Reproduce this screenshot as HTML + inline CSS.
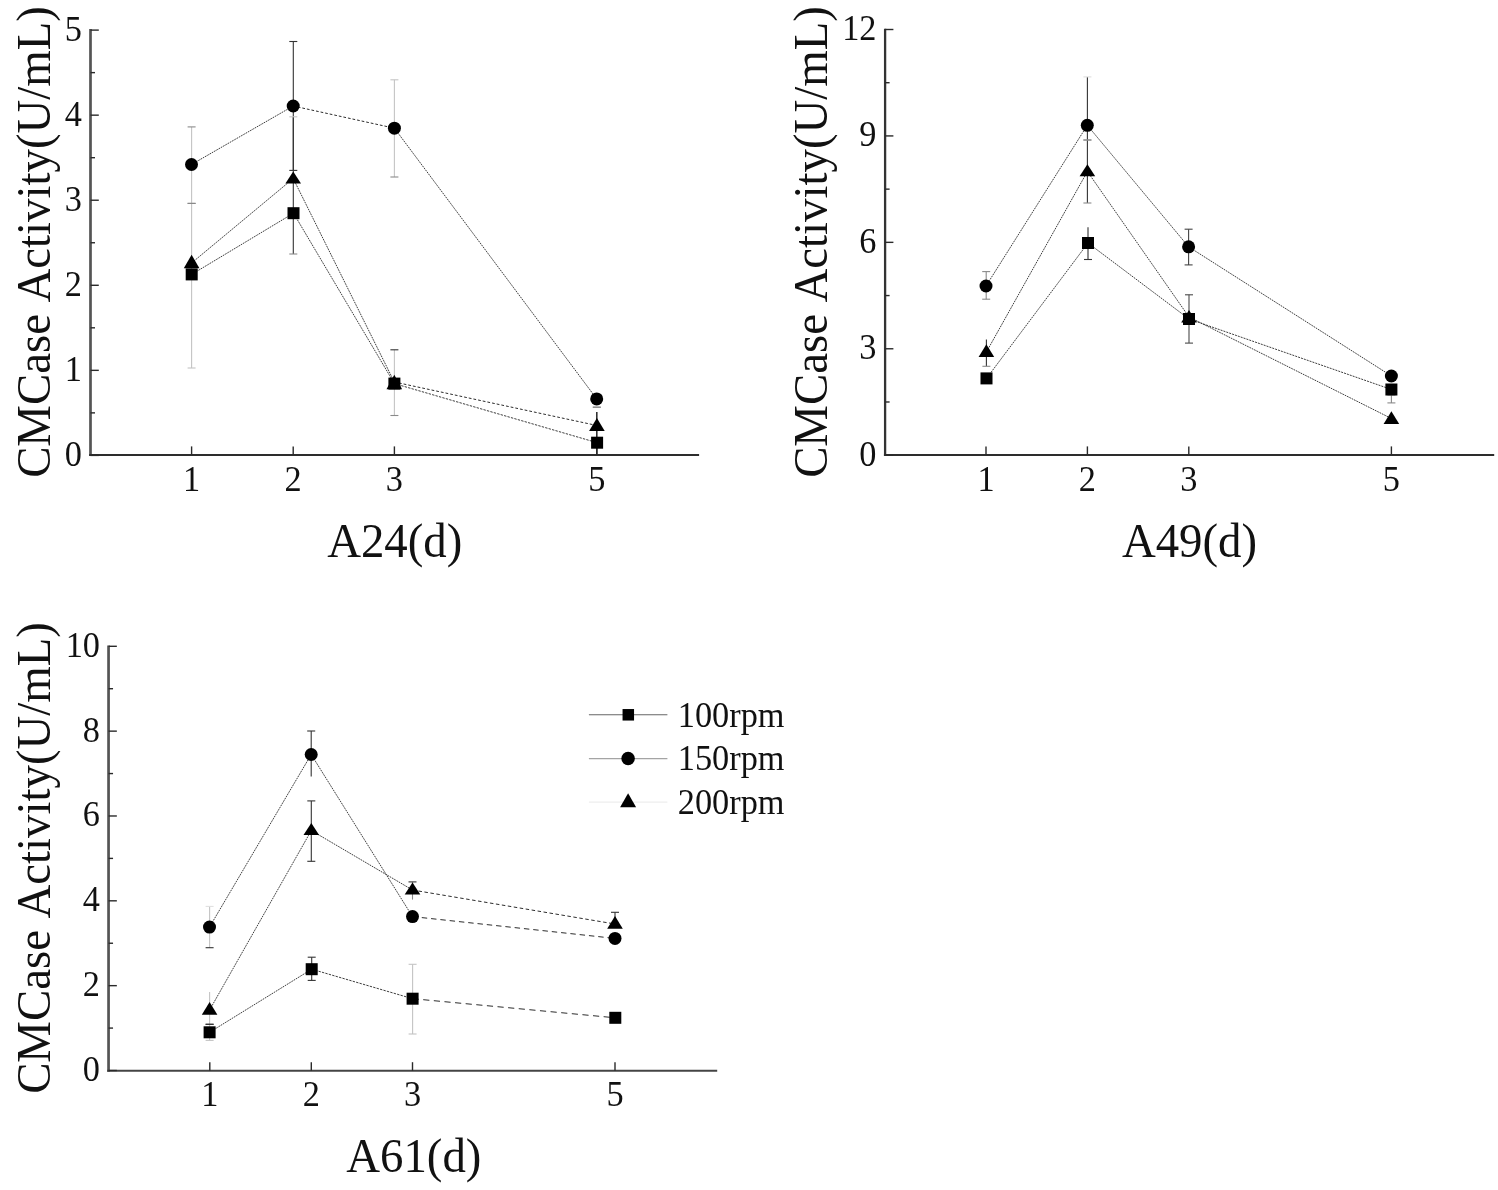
<!DOCTYPE html>
<html><head><meta charset="utf-8"><title>CMCase Activity</title>
<style>
html,body{margin:0;padding:0;background:#fff;}
svg{display:block;font-family:"Liberation Serif",serif;fill:#111;}
</style></head><body>
<svg width="1498" height="1190" viewBox="0 0 1498 1190">
<rect width="1498" height="1190" fill="#fff"/>
<line x1="191.70" y1="274.40" x2="293.50" y2="213.20" stroke="#343434" stroke-width="0.95" stroke-dasharray="1.72 0.88"/>
<line x1="293.50" y1="213.20" x2="394.40" y2="383.60" stroke="#343434" stroke-width="0.95" stroke-dasharray="1.72 0.88"/>
<line x1="394.40" y1="383.60" x2="597.10" y2="442.70" stroke="#343434" stroke-width="0.95" stroke-dasharray="2.36 1.21"/>
<line x1="191.50" y1="164.50" x2="293.20" y2="106.00" stroke="#343434" stroke-width="0.95" stroke-dasharray="1.72 0.88"/>
<line x1="293.20" y1="106.00" x2="394.40" y2="128.20" stroke="#2c2c2c" stroke-width="1.0" stroke-dasharray="2.71 1.96"/>
<line x1="394.40" y1="128.20" x2="596.70" y2="398.90" stroke="#343434" stroke-width="0.95" stroke-dasharray="1.72 0.88"/>
<line x1="191.60" y1="263.00" x2="293.20" y2="178.50" stroke="#343434" stroke-width="0.95" stroke-dasharray="1.72 0.88"/>
<line x1="293.20" y1="178.50" x2="394.30" y2="382.00" stroke="#343434" stroke-width="0.95" stroke-dasharray="1.72 0.88"/>
<line x1="394.30" y1="382.00" x2="596.90" y2="425.50" stroke="#2c2c2c" stroke-width="1.0" stroke-dasharray="2.76 2.00"/>
<line x1="191.60" y1="126.90" x2="191.60" y2="368.00" stroke="#c4c4c4" stroke-width="1.1" />
<line x1="187.60" y1="126.90" x2="195.60" y2="126.90" stroke="#8a8a8a" stroke-width="1.1" />
<line x1="187.60" y1="368.00" x2="195.60" y2="368.00" stroke="#c4c4c4" stroke-width="1.1" />
<line x1="191.60" y1="203.40" x2="191.60" y2="203.40" stroke="#8a8a8a" stroke-width="1.1" />
<line x1="187.60" y1="203.40" x2="195.60" y2="203.40" stroke="#8a8a8a" stroke-width="1.1" />
<line x1="187.60" y1="203.40" x2="195.60" y2="203.40" stroke="#8a8a8a" stroke-width="1.1" />
<line x1="293.30" y1="41.50" x2="293.30" y2="254.00" stroke="#333" stroke-width="1.1" />
<line x1="289.30" y1="41.50" x2="297.30" y2="41.50" stroke="#333" stroke-width="1.1" />
<line x1="289.30" y1="254.00" x2="297.30" y2="254.00" stroke="#8a8a8a" stroke-width="1.1" />
<line x1="293.30" y1="116.80" x2="293.30" y2="170.40" stroke="#333" stroke-width="1.1" />
<line x1="289.30" y1="116.80" x2="297.30" y2="116.80" stroke="#c4c4c4" stroke-width="1.1" />
<line x1="289.30" y1="170.40" x2="297.30" y2="170.40" stroke="#333" stroke-width="1.1" />
<line x1="394.40" y1="79.80" x2="394.40" y2="177.00" stroke="#c4c4c4" stroke-width="1.1" />
<line x1="390.40" y1="79.80" x2="398.40" y2="79.80" stroke="#c4c4c4" stroke-width="1.1" />
<line x1="390.40" y1="177.00" x2="398.40" y2="177.00" stroke="#8a8a8a" stroke-width="1.1" />
<line x1="394.40" y1="349.80" x2="394.40" y2="415.50" stroke="#c4c4c4" stroke-width="1.1" />
<line x1="390.40" y1="349.80" x2="398.40" y2="349.80" stroke="#333" stroke-width="1.1" />
<line x1="390.40" y1="415.50" x2="398.40" y2="415.50" stroke="#8a8a8a" stroke-width="1.1" />
<line x1="596.80" y1="412.00" x2="596.80" y2="454.00" stroke="#333" stroke-width="1.6" />
<line x1="596.80" y1="407.20" x2="596.80" y2="407.20" stroke="#8a8a8a" stroke-width="1.1" />
<line x1="592.80" y1="407.20" x2="600.80" y2="407.20" stroke="#8a8a8a" stroke-width="1.1" />
<line x1="592.80" y1="407.20" x2="600.80" y2="407.20" stroke="#8a8a8a" stroke-width="1.1" />
<line x1="90.50" y1="29.10" x2="90.50" y2="456.10" stroke="#545454" stroke-width="2.7" />
<line x1="89.15" y1="455.00" x2="699.10" y2="455.00" stroke="#2d2d2d" stroke-width="2.2" />
<line x1="90.50" y1="455.40" x2="98.80" y2="455.40" stroke="#2a2a2a" stroke-width="1.4" />
<line x1="90.50" y1="370.34" x2="98.80" y2="370.34" stroke="#2a2a2a" stroke-width="1.4" />
<line x1="90.50" y1="285.28" x2="98.80" y2="285.28" stroke="#2a2a2a" stroke-width="1.4" />
<line x1="90.50" y1="200.22" x2="98.80" y2="200.22" stroke="#2a2a2a" stroke-width="1.4" />
<line x1="90.50" y1="115.16" x2="98.80" y2="115.16" stroke="#2a2a2a" stroke-width="1.4" />
<line x1="90.50" y1="30.10" x2="98.80" y2="30.10" stroke="#2a2a2a" stroke-width="1.4" />
<line x1="90.50" y1="412.87" x2="95.00" y2="412.87" stroke="#2a2a2a" stroke-width="1.4" />
<line x1="90.50" y1="327.81" x2="95.00" y2="327.81" stroke="#2a2a2a" stroke-width="1.4" />
<line x1="90.50" y1="242.75" x2="95.00" y2="242.75" stroke="#2a2a2a" stroke-width="1.4" />
<line x1="90.50" y1="157.69" x2="95.00" y2="157.69" stroke="#2a2a2a" stroke-width="1.4" />
<line x1="90.50" y1="72.63" x2="95.00" y2="72.63" stroke="#2a2a2a" stroke-width="1.4" />
<line x1="191.60" y1="455.00" x2="191.60" y2="446.40" stroke="#2a2a2a" stroke-width="1.4" />
<text transform="translate(191.60,490.50) scale(1,1.065)" font-size="34.3" text-anchor="middle">1</text>
<line x1="293.20" y1="455.00" x2="293.20" y2="446.40" stroke="#2a2a2a" stroke-width="1.4" />
<text transform="translate(293.20,490.50) scale(1,1.065)" font-size="34.3" text-anchor="middle">2</text>
<line x1="394.40" y1="455.00" x2="394.40" y2="446.40" stroke="#2a2a2a" stroke-width="1.4" />
<text transform="translate(394.40,490.50) scale(1,1.065)" font-size="34.3" text-anchor="middle">3</text>
<line x1="596.80" y1="455.00" x2="596.80" y2="446.40" stroke="#2a2a2a" stroke-width="1.4" />
<text transform="translate(596.80,490.50) scale(1,1.065)" font-size="34.3" text-anchor="middle">5</text>
<text transform="translate(81.90,465.80) scale(1,1.065)" font-size="34.3" text-anchor="end">0</text>
<text transform="translate(81.90,380.74) scale(1,1.065)" font-size="34.3" text-anchor="end">1</text>
<text transform="translate(81.90,295.68) scale(1,1.065)" font-size="34.3" text-anchor="end">2</text>
<text transform="translate(81.90,210.62) scale(1,1.065)" font-size="34.3" text-anchor="end">3</text>
<text transform="translate(81.90,125.56) scale(1,1.065)" font-size="34.3" text-anchor="end">4</text>
<text transform="translate(81.90,40.50) scale(1,1.065)" font-size="34.3" text-anchor="end">5</text>
<text transform="translate(394.70,556.70) scale(1,1.03)" font-size="46.8" text-anchor="middle">A24(d)</text>
<text transform="translate(50.30,242.00) rotate(-90) scale(1,1.03)" font-size="46.8" text-anchor="middle" word-spacing="2.5">CMCase Activity(U/mL)</text>
<rect x="185.70" y="268.40" width="12" height="12" fill="#000"/>
<rect x="287.50" y="207.20" width="12" height="12" fill="#000"/>
<rect x="388.40" y="377.60" width="12" height="12" fill="#000"/>
<rect x="591.10" y="436.70" width="12" height="12" fill="#000"/>
<circle cx="191.50" cy="164.50" r="6.5" fill="#000"/>
<circle cx="293.20" cy="106.00" r="6.5" fill="#000"/>
<circle cx="394.40" cy="128.20" r="6.5" fill="#000"/>
<circle cx="596.70" cy="398.90" r="6.5" fill="#000"/>
<polygon points="191.60,254.80 199.40,268.30 183.80,268.30" fill="#000"/>
<polygon points="293.20,171.50 301.00,183.50 285.40,183.50" fill="#000"/>
<polygon points="394.30,374.80 402.10,389.20 386.50,389.20" fill="#000"/>
<polygon points="596.90,418.00 604.70,431.00 589.10,431.00" fill="#000"/>
<line x1="986.50" y1="378.40" x2="1088.00" y2="243.00" stroke="#343434" stroke-width="0.95" stroke-dasharray="1.72 0.88"/>
<line x1="1088.00" y1="243.00" x2="1189.00" y2="319.00" stroke="#343434" stroke-width="0.95" stroke-dasharray="1.72 0.88"/>
<line x1="1189.00" y1="319.00" x2="1391.40" y2="389.50" stroke="#343434" stroke-width="0.95" stroke-dasharray="2.01 1.03"/>
<line x1="986.00" y1="286.00" x2="1087.30" y2="125.30" stroke="#343434" stroke-width="0.95" stroke-dasharray="1.72 0.88"/>
<line x1="1087.30" y1="125.30" x2="1188.60" y2="246.80" stroke="#343434" stroke-width="0.95" stroke-dasharray="1.72 0.88"/>
<line x1="1188.60" y1="246.80" x2="1391.40" y2="376.00" stroke="#343434" stroke-width="0.95" stroke-dasharray="1.72 0.88"/>
<line x1="986.40" y1="352.00" x2="1087.40" y2="171.50" stroke="#343434" stroke-width="0.95" stroke-dasharray="1.72 0.88"/>
<line x1="1087.40" y1="171.50" x2="1189.00" y2="317.00" stroke="#343434" stroke-width="0.95" stroke-dasharray="1.72 0.88"/>
<line x1="1189.00" y1="317.00" x2="1391.40" y2="418.50" stroke="#343434" stroke-width="0.95" stroke-dasharray="1.72 0.88"/>
<line x1="986.20" y1="271.60" x2="986.20" y2="299.20" stroke="#8a8a8a" stroke-width="1.1" />
<line x1="982.20" y1="271.60" x2="990.20" y2="271.60" stroke="#8a8a8a" stroke-width="1.1" />
<line x1="982.20" y1="299.20" x2="990.20" y2="299.20" stroke="#8a8a8a" stroke-width="1.1" />
<line x1="986.40" y1="339.50" x2="986.40" y2="366.30" stroke="#333" stroke-width="1.1" />
<line x1="982.40" y1="366.30" x2="990.40" y2="366.30" stroke="#8a8a8a" stroke-width="1.1" />
<line x1="1087.40" y1="76.90" x2="1087.40" y2="203.00" stroke="#333" stroke-width="1.1" />
<line x1="1083.40" y1="76.90" x2="1091.40" y2="76.90" stroke="#ddd" stroke-width="1.1" />
<line x1="1083.40" y1="203.00" x2="1091.40" y2="203.00" stroke="#8a8a8a" stroke-width="1.1" />
<line x1="1087.40" y1="140.00" x2="1087.40" y2="140.00" stroke="#8a8a8a" stroke-width="1.1" />
<line x1="1083.40" y1="140.00" x2="1091.40" y2="140.00" stroke="#8a8a8a" stroke-width="1.1" />
<line x1="1083.40" y1="140.00" x2="1091.40" y2="140.00" stroke="#8a8a8a" stroke-width="1.1" />
<line x1="1088.00" y1="227.20" x2="1088.00" y2="259.50" stroke="#333" stroke-width="1.1" />
<line x1="1084.00" y1="259.50" x2="1092.00" y2="259.50" stroke="#333" stroke-width="1.1" />
<line x1="1188.60" y1="229.20" x2="1188.60" y2="264.90" stroke="#444" stroke-width="1.1" />
<line x1="1184.60" y1="229.20" x2="1192.60" y2="229.20" stroke="#444" stroke-width="1.1" />
<line x1="1184.60" y1="264.90" x2="1192.60" y2="264.90" stroke="#444" stroke-width="1.1" />
<line x1="1189.00" y1="294.80" x2="1189.00" y2="343.10" stroke="#4a4a4a" stroke-width="1.1" />
<line x1="1185.00" y1="294.80" x2="1193.00" y2="294.80" stroke="#4a4a4a" stroke-width="1.1" />
<line x1="1185.00" y1="343.10" x2="1193.00" y2="343.10" stroke="#4a4a4a" stroke-width="1.1" />
<line x1="1391.40" y1="395.00" x2="1391.40" y2="402.90" stroke="#8a8a8a" stroke-width="1.1" />
<line x1="1387.40" y1="395.00" x2="1395.40" y2="395.00" stroke="#8a8a8a" stroke-width="1.1" />
<line x1="1387.40" y1="402.90" x2="1395.40" y2="402.90" stroke="#8a8a8a" stroke-width="1.1" />
<line x1="885.10" y1="28.70" x2="885.10" y2="456.10" stroke="#333" stroke-width="2.3" />
<line x1="883.95" y1="455.00" x2="1494.20" y2="455.00" stroke="#2d2d2d" stroke-width="2.2" />
<line x1="885.10" y1="455.20" x2="893.40" y2="455.20" stroke="#2a2a2a" stroke-width="1.4" />
<line x1="885.10" y1="348.77" x2="893.40" y2="348.77" stroke="#2a2a2a" stroke-width="1.4" />
<line x1="885.10" y1="242.35" x2="893.40" y2="242.35" stroke="#2a2a2a" stroke-width="1.4" />
<line x1="885.10" y1="135.92" x2="893.40" y2="135.92" stroke="#2a2a2a" stroke-width="1.4" />
<line x1="885.10" y1="29.50" x2="893.40" y2="29.50" stroke="#2a2a2a" stroke-width="1.4" />
<line x1="885.10" y1="401.99" x2="889.60" y2="401.99" stroke="#2a2a2a" stroke-width="1.4" />
<line x1="885.10" y1="295.56" x2="889.60" y2="295.56" stroke="#2a2a2a" stroke-width="1.4" />
<line x1="885.10" y1="189.14" x2="889.60" y2="189.14" stroke="#2a2a2a" stroke-width="1.4" />
<line x1="885.10" y1="82.71" x2="889.60" y2="82.71" stroke="#2a2a2a" stroke-width="1.4" />
<line x1="986.00" y1="455.00" x2="986.00" y2="446.40" stroke="#2a2a2a" stroke-width="1.4" />
<text transform="translate(986.00,490.50) scale(1,1.065)" font-size="34.3" text-anchor="middle">1</text>
<line x1="1087.40" y1="455.00" x2="1087.40" y2="446.40" stroke="#2a2a2a" stroke-width="1.4" />
<text transform="translate(1087.40,490.50) scale(1,1.065)" font-size="34.3" text-anchor="middle">2</text>
<line x1="1188.80" y1="455.00" x2="1188.80" y2="446.40" stroke="#2a2a2a" stroke-width="1.4" />
<text transform="translate(1188.80,490.50) scale(1,1.065)" font-size="34.3" text-anchor="middle">3</text>
<line x1="1391.40" y1="455.00" x2="1391.40" y2="446.40" stroke="#2a2a2a" stroke-width="1.4" />
<text transform="translate(1391.40,490.50) scale(1,1.065)" font-size="34.3" text-anchor="middle">5</text>
<text transform="translate(876.50,465.60) scale(1,1.065)" font-size="34.3" text-anchor="end">0</text>
<text transform="translate(876.50,359.17) scale(1,1.065)" font-size="34.3" text-anchor="end">3</text>
<text transform="translate(876.50,252.75) scale(1,1.065)" font-size="34.3" text-anchor="end">6</text>
<text transform="translate(876.50,146.32) scale(1,1.065)" font-size="34.3" text-anchor="end">9</text>
<text transform="translate(876.50,39.90) scale(1,1.065)" font-size="34.3" text-anchor="end">12</text>
<text transform="translate(1189.50,556.70) scale(1,1.03)" font-size="46.8" text-anchor="middle">A49(d)</text>
<text transform="translate(826.70,242.00) rotate(-90) scale(1,1.03)" font-size="46.8" text-anchor="middle" word-spacing="2.5">CMCase Activity(U/mL)</text>
<rect x="980.50" y="372.40" width="12" height="12" fill="#000"/>
<rect x="1082.00" y="237.00" width="12" height="12" fill="#000"/>
<rect x="1183.00" y="313.00" width="12" height="12" fill="#000"/>
<rect x="1385.40" y="383.50" width="12" height="12" fill="#000"/>
<circle cx="986.00" cy="286.00" r="6.5" fill="#000"/>
<circle cx="1087.30" cy="125.30" r="6.5" fill="#000"/>
<circle cx="1188.60" cy="246.80" r="6.5" fill="#000"/>
<circle cx="1391.40" cy="376.00" r="6.5" fill="#000"/>
<polygon points="986.40,344.20 994.20,356.90 978.60,356.90" fill="#000"/>
<polygon points="1087.40,164.20 1095.20,176.30 1079.60,176.30" fill="#000"/>
<polygon points="1189.00,309.90 1196.80,322.50 1181.20,322.50" fill="#000"/>
<polygon points="1391.40,411.20 1399.20,424.00 1383.60,424.00" fill="#000"/>
<line x1="209.60" y1="1032.30" x2="311.70" y2="969.20" stroke="#343434" stroke-width="0.95" stroke-dasharray="1.72 0.88"/>
<line x1="311.70" y1="969.20" x2="412.60" y2="998.70" stroke="#343434" stroke-width="0.95" stroke-dasharray="2.35 1.21"/>
<line x1="412.60" y1="998.70" x2="615.30" y2="1017.80" stroke="#2c2c2c" stroke-width="1.0" stroke-dasharray="6.18 4.48"/>
<line x1="209.50" y1="927.10" x2="311.20" y2="754.50" stroke="#343434" stroke-width="0.95" stroke-dasharray="1.72 0.88"/>
<line x1="311.20" y1="754.50" x2="412.50" y2="916.60" stroke="#343434" stroke-width="0.95" stroke-dasharray="1.72 0.88"/>
<line x1="412.50" y1="916.60" x2="615.00" y2="938.40" stroke="#2c2c2c" stroke-width="1.0" stroke-dasharray="5.42 3.92"/>
<line x1="209.60" y1="1010.00" x2="311.30" y2="830.50" stroke="#343434" stroke-width="0.95" stroke-dasharray="1.72 0.88"/>
<line x1="311.30" y1="830.50" x2="412.50" y2="890.00" stroke="#343434" stroke-width="0.95" stroke-dasharray="1.72 0.88"/>
<line x1="412.50" y1="890.00" x2="615.00" y2="924.00" stroke="#2c2c2c" stroke-width="1.0" stroke-dasharray="3.50 2.54"/>
<line x1="209.60" y1="906.40" x2="209.60" y2="947.70" stroke="#c4c4c4" stroke-width="1.1" />
<line x1="205.60" y1="906.40" x2="213.60" y2="906.40" stroke="#e0e0e0" stroke-width="1.1" />
<line x1="205.60" y1="947.70" x2="213.60" y2="947.70" stroke="#333" stroke-width="1.1" />
<line x1="209.60" y1="992.00" x2="209.60" y2="1040.40" stroke="#c4c4c4" stroke-width="1.1" />
<line x1="205.60" y1="1040.40" x2="213.60" y2="1040.40" stroke="#c4c4c4" stroke-width="1.1" />
<line x1="209.60" y1="1024.30" x2="209.60" y2="1024.30" stroke="#333" stroke-width="1.1" />
<line x1="205.60" y1="1024.30" x2="213.60" y2="1024.30" stroke="#333" stroke-width="1.1" />
<line x1="205.60" y1="1024.30" x2="213.60" y2="1024.30" stroke="#333" stroke-width="1.1" />
<line x1="311.20" y1="731.00" x2="311.20" y2="776.40" stroke="#333" stroke-width="1.1" />
<line x1="307.20" y1="731.00" x2="315.20" y2="731.00" stroke="#333" stroke-width="1.1" />
<line x1="311.30" y1="800.90" x2="311.30" y2="861.30" stroke="#333" stroke-width="1.1" />
<line x1="307.30" y1="800.90" x2="315.30" y2="800.90" stroke="#333" stroke-width="1.1" />
<line x1="307.30" y1="861.30" x2="315.30" y2="861.30" stroke="#333" stroke-width="1.1" />
<line x1="311.70" y1="957.20" x2="311.70" y2="980.40" stroke="#333" stroke-width="1.1" />
<line x1="307.70" y1="957.20" x2="315.70" y2="957.20" stroke="#333" stroke-width="1.1" />
<line x1="307.70" y1="980.40" x2="315.70" y2="980.40" stroke="#333" stroke-width="1.1" />
<line x1="412.50" y1="881.90" x2="412.50" y2="899.60" stroke="#8a8a8a" stroke-width="1.1" />
<line x1="408.50" y1="881.90" x2="416.50" y2="881.90" stroke="#333" stroke-width="1.1" />
<line x1="412.60" y1="964.30" x2="412.60" y2="1034.00" stroke="#c4c4c4" stroke-width="1.1" />
<line x1="408.60" y1="964.30" x2="416.60" y2="964.30" stroke="#c4c4c4" stroke-width="1.1" />
<line x1="408.60" y1="1034.00" x2="416.60" y2="1034.00" stroke="#c4c4c4" stroke-width="1.1" />
<line x1="615.00" y1="912.30" x2="615.00" y2="920.00" stroke="#333" stroke-width="1.1" />
<line x1="611.00" y1="912.30" x2="619.00" y2="912.30" stroke="#333" stroke-width="1.1" />
<line x1="108.55" y1="645.50" x2="108.55" y2="1071.75" stroke="#545454" stroke-width="2.7" />
<line x1="107.20" y1="1070.80" x2="717.20" y2="1070.80" stroke="#444" stroke-width="1.9" />
<line x1="108.55" y1="1070.50" x2="116.85" y2="1070.50" stroke="#2a2a2a" stroke-width="1.4" />
<line x1="108.55" y1="985.66" x2="116.85" y2="985.66" stroke="#2a2a2a" stroke-width="1.4" />
<line x1="108.55" y1="900.82" x2="116.85" y2="900.82" stroke="#2a2a2a" stroke-width="1.4" />
<line x1="108.55" y1="815.98" x2="116.85" y2="815.98" stroke="#2a2a2a" stroke-width="1.4" />
<line x1="108.55" y1="731.14" x2="116.85" y2="731.14" stroke="#2a2a2a" stroke-width="1.4" />
<line x1="108.55" y1="646.30" x2="116.85" y2="646.30" stroke="#2a2a2a" stroke-width="1.4" />
<line x1="108.55" y1="1028.08" x2="113.05" y2="1028.08" stroke="#2a2a2a" stroke-width="1.4" />
<line x1="108.55" y1="943.24" x2="113.05" y2="943.24" stroke="#2a2a2a" stroke-width="1.4" />
<line x1="108.55" y1="858.40" x2="113.05" y2="858.40" stroke="#2a2a2a" stroke-width="1.4" />
<line x1="108.55" y1="773.56" x2="113.05" y2="773.56" stroke="#2a2a2a" stroke-width="1.4" />
<line x1="108.55" y1="688.72" x2="113.05" y2="688.72" stroke="#2a2a2a" stroke-width="1.4" />
<line x1="209.80" y1="1070.80" x2="209.80" y2="1062.20" stroke="#2a2a2a" stroke-width="1.4" />
<text transform="translate(209.80,1106.30) scale(1,1.065)" font-size="34.3" text-anchor="middle">1</text>
<line x1="311.30" y1="1070.80" x2="311.30" y2="1062.20" stroke="#2a2a2a" stroke-width="1.4" />
<text transform="translate(311.30,1106.30) scale(1,1.065)" font-size="34.3" text-anchor="middle">2</text>
<line x1="412.50" y1="1070.80" x2="412.50" y2="1062.20" stroke="#2a2a2a" stroke-width="1.4" />
<text transform="translate(412.50,1106.30) scale(1,1.065)" font-size="34.3" text-anchor="middle">3</text>
<line x1="615.00" y1="1070.80" x2="615.00" y2="1062.20" stroke="#2a2a2a" stroke-width="1.4" />
<text transform="translate(615.00,1106.30) scale(1,1.065)" font-size="34.3" text-anchor="middle">5</text>
<text transform="translate(99.95,1080.90) scale(1,1.065)" font-size="34.3" text-anchor="end">0</text>
<text transform="translate(99.95,996.06) scale(1,1.065)" font-size="34.3" text-anchor="end">2</text>
<text transform="translate(99.95,911.22) scale(1,1.065)" font-size="34.3" text-anchor="end">4</text>
<text transform="translate(99.95,826.38) scale(1,1.065)" font-size="34.3" text-anchor="end">6</text>
<text transform="translate(99.95,741.54) scale(1,1.065)" font-size="34.3" text-anchor="end">8</text>
<text transform="translate(99.95,656.70) scale(1,1.065)" font-size="34.3" text-anchor="end">10</text>
<text transform="translate(413.80,1172.10) scale(1,1.03)" font-size="46.8" text-anchor="middle">A61(d)</text>
<text transform="translate(50.40,858.00) rotate(-90) scale(1,1.03)" font-size="46.8" text-anchor="middle" word-spacing="2.5">CMCase Activity(U/mL)</text>
<rect x="203.60" y="1026.30" width="12" height="12" fill="#000"/>
<rect x="305.70" y="963.20" width="12" height="12" fill="#000"/>
<rect x="406.60" y="992.70" width="12" height="12" fill="#000"/>
<rect x="609.30" y="1011.80" width="12" height="12" fill="#000"/>
<circle cx="209.50" cy="927.10" r="6.5" fill="#000"/>
<circle cx="311.20" cy="754.50" r="6.5" fill="#000"/>
<circle cx="412.50" cy="916.60" r="6.5" fill="#000"/>
<circle cx="615.00" cy="938.40" r="6.5" fill="#000"/>
<polygon points="209.60,1002.10 217.40,1014.80 201.80,1014.80" fill="#000"/>
<polygon points="311.30,823.00 319.10,834.90 303.50,834.90" fill="#000"/>
<polygon points="412.50,882.60 420.30,894.50 404.70,894.50" fill="#000"/>
<polygon points="615.00,916.10 622.80,928.80 607.20,928.80" fill="#000"/>
<line x1="588.90" y1="714.80" x2="667.40" y2="714.80" stroke="#666" stroke-width="1.1" />
<rect x="622.55" y="709.05" width="11.5" height="11.5" fill="#000"/>
<text transform="translate(677.8,726.5) scale(1,1.065)" font-size="34.3">100rpm</text>
<line x1="588.90" y1="758.60" x2="667.40" y2="758.60" stroke="#a4a4a4" stroke-width="1.1" />
<circle cx="628.10" cy="758.60" r="6.75" fill="#000"/>
<text transform="translate(677.8,770.1) scale(1,1.065)" font-size="34.3">150rpm</text>
<line x1="588.90" y1="802.10" x2="667.40" y2="802.10" stroke="#eee" stroke-width="1.1" />
<polygon points="628.10,793.30 636.10,807.30 620.10,807.30" fill="#000"/>
<text transform="translate(677.8,813.7) scale(1,1.065)" font-size="34.3">200rpm</text>
</svg>
</body></html>
